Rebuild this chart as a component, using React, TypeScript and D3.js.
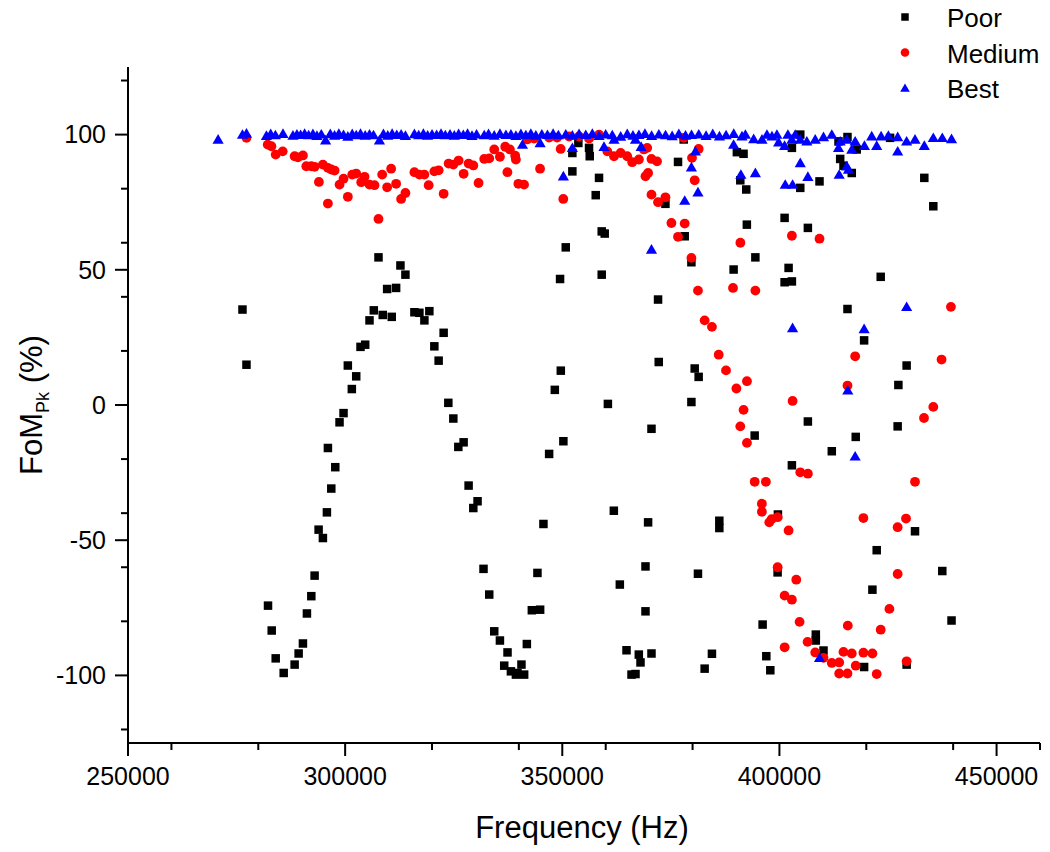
import React from "react";
import * as d3 from "d3";

// Frequency (Hz), FoM_Pk (%)
const poor: [number, number][] = [
  [276360,35.3],[277280,14.9],[282240,-74.2],[283090,-83.4],[284010,-93.7],[285850,-99.1],[288370,-96.0],[289290,-91.9],[290280,-88.2],[291200,-77.1],[292210,-70.7],[292970,-63.1],[293890,-46.1],[294880,-49.2],[295800,-39.7],[296030,-15.9],[296810,-30.9],[297730,-23.0],[298710,-6.4],[299630,-3.0],[300620,14.6],[301540,5.9],[302550,10.6],[303540,21.5],[304620,22.3],[305610,31.3],[306600,35.0],[307680,54.6],[308660,33.3],[309670,42.9],[310730,32.6],[311740,43.3],[312730,51.6],[313880,48.2],[315950,34.3],[317100,34.1],[318250,31.3],[319390,34.7],[320540,21.7],[321530,16.4],[322680,26.7],[323760,0.8],[324910,-5.0],[326060,-15.5],[327280,-13.8],[328430,-29.8],[329510,-38.1],[330490,-35.6],[331860,-60.6],[333180,-70.1],[334330,-83.7],[335640,-87.1],[336630,-96.4],[337390,-91.5],[338170,-98.5],[339320,-99.7],[339680,-99.1],[340600,-96.0],[341220,-99.7],[341840,-88.4],[342990,-75.9],[344280,-62.1],[344900,-75.7],[345660,-44.0],[346970,-18.1],[348280,5.6],[349490,46.6],[349660,12.7],[350250,-13.4],[350800,58.3],[352320,93.2],[352320,86.4],[353700,96.9],[356160,95.1],[356320,92.0],[357700,77.6],[358460,84.0],[359080,64.2],[359770,63.4],[359080,48.2],[360500,0.4],[361870,-39.1],[363250,-66.4],[364790,-90.7],[365940,-99.7],[366860,-99.5],[367620,-92.3],[368010,-95.2],[369160,-59.7],[369160,-76.3],[369760,-43.4],[370540,-8.8],[370540,-91.9],[372050,39.0],[372210,15.9],[373750,74.4],[376650,89.9],[377960,98.2],[378190,62.4],[379730,52.8],[379730,1.1],[380490,13.5],[381240,-62.4],[381400,10.4],[382780,-97.5],[384460,-92.0],[386160,-42.8],[386160,-45.5],[389450,50.1],[390200,93.5],[390990,83.1],[391740,92.9],[392360,79.7],[392500,66.7],[394300,-11.3],[394460,54.6],[396130,-81.2],[396980,-92.9],[397900,-98.1],[399580,-61.9],[399650,-40.5],[401190,69.2],[401190,45.4],[402110,50.7],[402870,95.1],[402870,45.7],[402870,-22.3],[404800,100],[404800,80.3],[406550,65.5],[406550,-6.1],[408380,-84.9],[408380,-87.1],[409230,82.7],[410150,-90.8],[412060,-17.1],[413600,97.5],[413990,91.0],[414750,88.5],[415670,99.1],[415670,35.5],[416660,85.8],[417570,-11.8],[417800,94.5],[419500,23.9],[419500,-96.9],[421410,-68.3],[422400,-53.7],[423320,47.4],[425480,98.8],[427220,-7.9],[427390,7.4],[429290,14.6],[429290,-96.0],[431220,-46.7],[433360,84.0],[435430,73.5],[437500,-61.4],[439630,-79.7]
];

const medium: [number, number][] = [
  [277280,98.8],[282170,96.3],[283020,95.7],[284010,92.6],[285620,93.8],[288370,92.0],[289130,91.6],[290280,92.3],[291060,88.3],[292210,88.3],[292970,88.1],[293960,82.5],[294880,88.9],[296030,87.7],[296030,74.5],[296810,87.1],[297570,86.7],[298710,81.5],[299630,83.7],[300620,77.0],[301630,85.2],[302550,85.6],[303700,82.4],[304460,84.4],[305610,81.5],[306760,81.3],[307680,68.8],[308530,85.2],[309670,80.5],[310590,87.4],[311740,81.8],[312890,76.2],[313880,78.4],[315950,86.1],[317100,85.2],[318250,85.2],[319230,81.3],[320540,86.4],[321530,86.8],[322680,78.1],[323830,89.3],[324910,88.9],[326130,90.4],[327280,85.5],[328430,89.3],[329510,88.6],[330720,82.1],[332030,91.0],[333180,91.2],[334330,94.5],[335640,91.8],[336860,95.5],[337360,86.1],[337940,94.5],[339160,92.2],[339320,90.8],[339890,81.8],[341200,81.5],[341910,98.2],[343520,98.5],[344880,87.4],[346970,98.9],[348810,98.9],[349630,94.7],[350230,76.2],[351560,99.3],[353860,99.3],[356160,98.5],[358460,100],[360370,93.8],[361910,92.0],[363440,93.2],[364950,92.0],[366100,89.8],[367640,90.8],[368790,94.5],[369160,84.6],[369550,95.1],[369760,85.8],[370540,91.0],[370540,77.8],[371820,90.1],[372050,75.0],[373750,76.8],[375130,67.3],[376650,62.2],[377960,98.8],[378190,67.1],[379730,54.4],[379870,91.4],[380490,83.1],[381240,42.3],[381400,94.7],[382780,31.3],[384460,28.9],[386020,18.6],[387700,12.8],[389310,43.3],[390090,6.1],[390990,-7.9],[391010,60.0],[391740,-1.8],[392520,8.8],[392520,-14.0],[394300,-28.4],[394460,42.3],[395960,-36.5],[395960,-39.5],[396880,-28.4],[397660,-43.4],[398210,-42.2],[399590,-41.5],[399590,-60.0],[401200,-70.5],[401200,-89.6],[402110,-46.4],[402870,62.6],[402870,-72.0],[403030,1.5],[403880,-64.6],[404640,-80.2],[404800,-24.9],[406480,-87.6],[406550,-25.4],[408250,-91.5],[409230,61.5],[410150,-93.5],[412060,-95.4],[413760,-95.2],[413760,-99.3],[414750,-91.3],[415670,7.2],[415670,-99.3],[415740,-81.6],[416660,-91.9],[417440,18.0],[417570,-96.4],[419340,-41.8],[419340,-91.6],[421410,-91.9],[422400,-99.5],[423320,-83.1],[425320,-75.4],[427220,-45.2],[427220,-62.5],[429150,-42.0],[429290,-94.8],[431220,-28.4],[433290,-4.8],[435430,-0.7],[437330,16.8],[439490,36.3]
];

const best: [number, number][] = [
  [270750,98.2],[276360,100],[277280,100.4],
  [281870,99.6],[282860,100.2],[283940,99.8],[285690,100.3],[287980,99.7],[288900,100.1],[289750,99.9],[290670,100.3],[291590,99.8],[292580,100.2],[293500,99.6],[294510,100.1],[295500,97.9],[296580,100.2],[297560,99.7],[298550,100.3],[299630,99.9],[300620,99.3],[301630,100.2],[302550,99.8],[303540,100.3],[304620,99.7],[305610,100.1],[306530,99.8],[307900,97.9],[308820,100.2],[309810,99.7],[310820,100.3],[311880,99.9],[312890,100.1],[313880,99.6],[315950,100.2],[316940,99.8],[318020,100.3],[319000,99.7],[320010,100.1],[321070,99.9],[322080,100.3],[323070,99.8],[324150,100.1],[325140,99.7],[326130,100.2],[327210,99.9],[328190,100.3],[329210,99.6],[330260,100.1],
  [332030,99.8],[333020,100.2],[334330,99.7],[335640,100.3],[337020,99.9],[338170,100.1],[339320,99.6],[340470,100.2],[341610,99.8],[342760,100.3],[343910,99.7],[345290,100.1],[346580,99.9],[347890,100.3],[349100,99.8],[350800,100.1],[352320,99.7],[353860,100.2],[355400,99.9],[356920,100.3],[358460,99.6],[359990,100.1],[361510,99.8],[363440,99.3],[364960,100.2],[366270,99.7],[367650,99.9],[369030,100.3],[370570,99.6],[372240,100.1],[373780,99.8],[375300,99.5],[376840,100.2],[378380,99.7],[379760,99.9],[381430,100.1],[383110,99.6],[384650,100.2],[386190,99.4],[387710,99.8],[389480,100.3],
  [391380,99.4],[392160,100],[394070,98.4],[395980,98.2],[397130,100],[398280,99.4],[399420,100],[399820,97.2],[401190,95.9],[401950,100],[402870,98.2],[403630,100],[404780,98.2],[406310,97.5],[408240,98.2],[410150,99.1],[412060,100],[413600,95.1],[413990,97.5],[415510,98.2],[416660,94.5],[417440,97.5],[419570,95.9],[421250,99.4],[422400,95.9],[423410,99.4],[425090,99.6],[427230,99.1],[427230,93.8],[429290,97.5],[431220,98.2],[433360,95.9],[435430,98.8],[437500,98.8],[439630,98.4],
  [340830,96.3],[344900,96.9],[350250,84.6],[352320,95.1],[359610,95.5],[361910,98.2],[366860,98.2],[368160,95.5],[370540,57.5],[378190,75.6],[379730,87.9],[380650,93.8],[381240,78.7],[389450,96.3],[391120,85.2],[394460,85.8],[401340,81.5],[403030,81.5],[403030,28.5],[404800,89.5],[406550,84.4],[409230,-93.5],[413760,85.2],[415510,88.3],[415900,87.1],[415740,5.4],[417440,-19.0],[419500,28.1],[429290,36.3]
];

const seriesNames = ["Poor", "Medium", "Best"];
const xDomain: [number, number] = [250000, 460000];
const yDomain: [number, number] = [-125, 125];

const W = 1050, H = 852;
const L = 128, R = 1040, T = 67, B = 743;
const FONT = "'Liberation Sans', Arial, Helvetica, sans-serif";

export default function App() {
  const x = d3.scaleLinear().domain(xDomain).range([L, R]);
  const y = d3.scaleLinear().domain(yDomain).range([B, T]);
  const xMajor = x.ticks(5);
  const xMinor = x.ticks(10).filter((t) => !xMajor.includes(t));
  const yMajor = y.ticks(5);
  const yMinor = y.ticks(10).filter((t) => !yMajor.includes(t));
  const tri = d3.symbol().type(d3.symbolTriangle).size(54)();
  const triLeg = d3.symbol().type(d3.symbolTriangle).size(40)();

  const marker = (i: number, cx: number, cy: number, key: any, legend = false) => {
    if (i === 0) {
      const s = legend ? 7.5 : 8.5;
      return <rect key={key} x={cx - s / 2} y={cy - s / 2} width={s} height={s} fill="#000" />;
    }
    if (i === 1) return <circle key={key} cx={cx} cy={cy} r={legend ? 4.3 : 4.9} fill="#ff0000" />;
    return <path key={key} d={legend ? triLeg : tri} transform={`translate(${cx},${cy + 1})`} fill="#0000ff" />;
  };

  const all = [poor, medium, best];

  return (
    <svg width={W} height={H} style={{ position: "absolute", left: 0, top: 0, background: "#fff" }} fontFamily={FONT}>
      <rect x={0} y={0} width={W} height={H} fill="#fff" />
      {all.map((data, i) => (
        <g key={i}>{data.map((d, j) => marker(i, x(d[0]), y(d[1]), j))}</g>
      ))}
      {/* axes */}
      <line x1={L} x2={L} y1={T} y2={B} stroke="#000" strokeWidth={2} />
      <line x1={L - 1} x2={R} y1={B} y2={B} stroke="#000" strokeWidth={2} />
      {yMajor.map((t) => (
        <g key={"ym" + t}>
          <line x1={L - 13} x2={L} y1={y(t)} y2={y(t)} stroke="#000" strokeWidth={2} />
          <text x={L - 22} y={y(t)} dy="0.35em" textAnchor="end" fontSize={25}>{t}</text>
        </g>
      ))}
      {yMinor.map((t) => (
        <line key={"yn" + t} x1={L - 7} x2={L} y1={y(t)} y2={y(t)} stroke="#000" strokeWidth={2} />
      ))}
      {xMajor.map((t) => (
        <g key={"xm" + t}>
          <line x1={x(t)} x2={x(t)} y1={B} y2={B + 13} stroke="#000" strokeWidth={2} />
          <text x={x(t)} y={B + 42} textAnchor="middle" fontSize={25}>{t}</text>
        </g>
      ))}
      {xMinor.map((t) => (
        <line key={"xn" + t} x1={x(t)} x2={x(t)} y1={B} y2={B + 7} stroke="#000" strokeWidth={2} />
      ))}
      <text x={582} y={838} textAnchor="middle" fontSize={31}>Frequency (Hz)</text>
      <text transform="translate(42,405) rotate(-90)" textAnchor="middle" fontSize={31}>
        FoM<tspan fontSize={18} dy={7}>Pk</tspan><tspan dy={-7}> (%)</tspan>
      </text>
      {/* legend */}
      {seriesNames.map((n, i) => (
        <g key={n}>
          {marker(i, 905, 17 + i * 35.5, "lg" + i, true)}
          <text x={947} y={27 + i * 35.5} fontSize={26}>{n}</text>
        </g>
      ))}
    </svg>
  );
}
